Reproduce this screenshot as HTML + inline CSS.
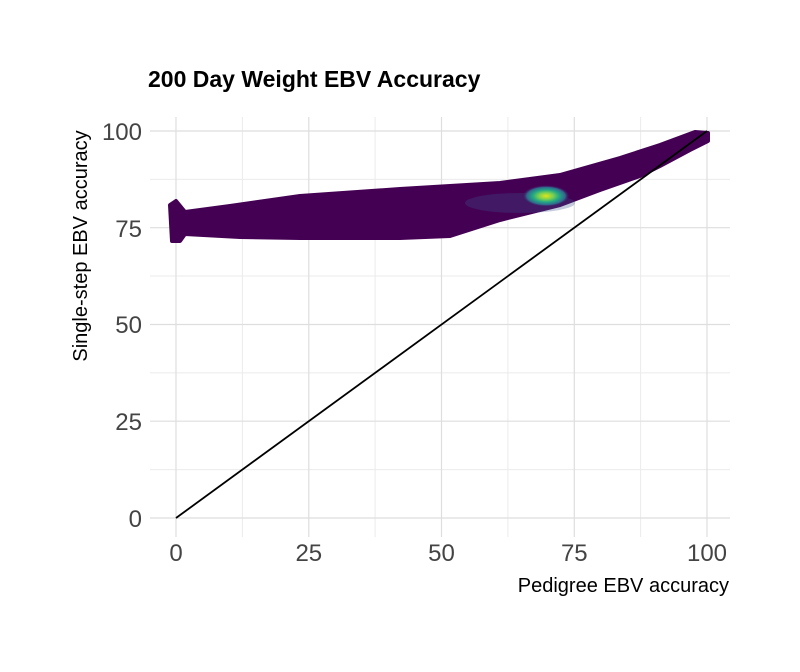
<!DOCTYPE html>
<html><head><meta charset="utf-8"><style>body{margin:0;background:#fff}</style></head><body>
<svg width="800" height="667" xmlns="http://www.w3.org/2000/svg" font-family="Liberation Sans, sans-serif">
<rect width="800" height="667" fill="#fff"/>
<g stroke="#ebebeb" stroke-width="1">
<line x1="150" x2="730" y1="469.6" y2="469.6"/><line x1="150" x2="730" y1="372.9" y2="372.9"/>
<line x1="150" x2="730" y1="276" y2="276"/><line x1="150" x2="730" y1="179.4" y2="179.4"/>
<line y1="117" y2="537" x1="242.4" x2="242.4"/><line y1="117" y2="537" x1="375.1" x2="375.1"/>
<line y1="117" y2="537" x1="507.9" x2="507.9"/><line y1="117" y2="537" x1="640.6" x2="640.6"/>
</g>
<g stroke="#dedede" stroke-width="1.2">
<line x1="150" x2="730" y1="518" y2="518"/><line x1="150" x2="730" y1="421.2" y2="421.2"/>
<line x1="150" x2="730" y1="324.5" y2="324.5"/><line x1="150" x2="730" y1="227.7" y2="227.7"/>
<line x1="150" x2="730" y1="131" y2="131"/>
<line y1="117" y2="537" x1="176" x2="176"/><line y1="117" y2="537" x1="308.8" x2="308.8"/>
<line y1="117" y2="537" x1="441.5" x2="441.5"/><line y1="117" y2="537" x1="574.3" x2="574.3"/>
<line y1="117" y2="537" x1="707" x2="707"/>
</g>
<defs><radialGradient id="g" cx="0.5" cy="0.5" r="0.5">
<stop offset="0" stop-color="#e3e418"/><stop offset="0.3" stop-color="#7ad151"/><stop offset="0.55" stop-color="#22a884"/><stop offset="0.8" stop-color="#31688e"/><stop offset="1" stop-color="#440154" stop-opacity="0"/></radialGradient></defs>
<path d="M170,205 L176,201 L185,212 L230,206 L300,196 L400,189 L500,183 L560,175 L620,158 L660,145 L695,132 L708,133 L708,141 L690,150 L660,166 L640,176 L600,190 L560,205 L500,220 L450,236 L400,238 L300,238 L240,237 L185,234 L180,241 L172,241 Z" fill="#440154" stroke="#440154" stroke-width="4" stroke-linejoin="round"/>
<ellipse cx="520" cy="203" rx="55" ry="10" fill="#3b528b" opacity="0.3"/>
<ellipse cx="546" cy="196" rx="24" ry="11" fill="url(#g)"/>
<line x1="176" y1="518" x2="707" y2="131" stroke="#000" stroke-width="1.8"/>
<text x="148" y="87" font-size="23" font-weight="bold">200 Day Weight EBV Accuracy</text>
<g font-size="24" fill="#444" text-anchor="end">
<text x="142" y="527">0</text><text x="142" y="430">25</text><text x="142" y="333">50</text><text x="142" y="237">75</text><text x="142" y="140">100</text></g>
<g font-size="24" fill="#444" text-anchor="middle">
<text x="176" y="561">0</text><text x="308.8" y="561">25</text><text x="441.5" y="561">50</text><text x="574.3" y="561">75</text><text x="707" y="561">100</text></g>
<text x="729" y="592" font-size="20" text-anchor="end">Pedigree EBV accuracy</text>
<text transform="translate(87,246) rotate(-90)" font-size="20" text-anchor="middle">Single-step EBV accuracy</text>
</svg>
</body></html>
